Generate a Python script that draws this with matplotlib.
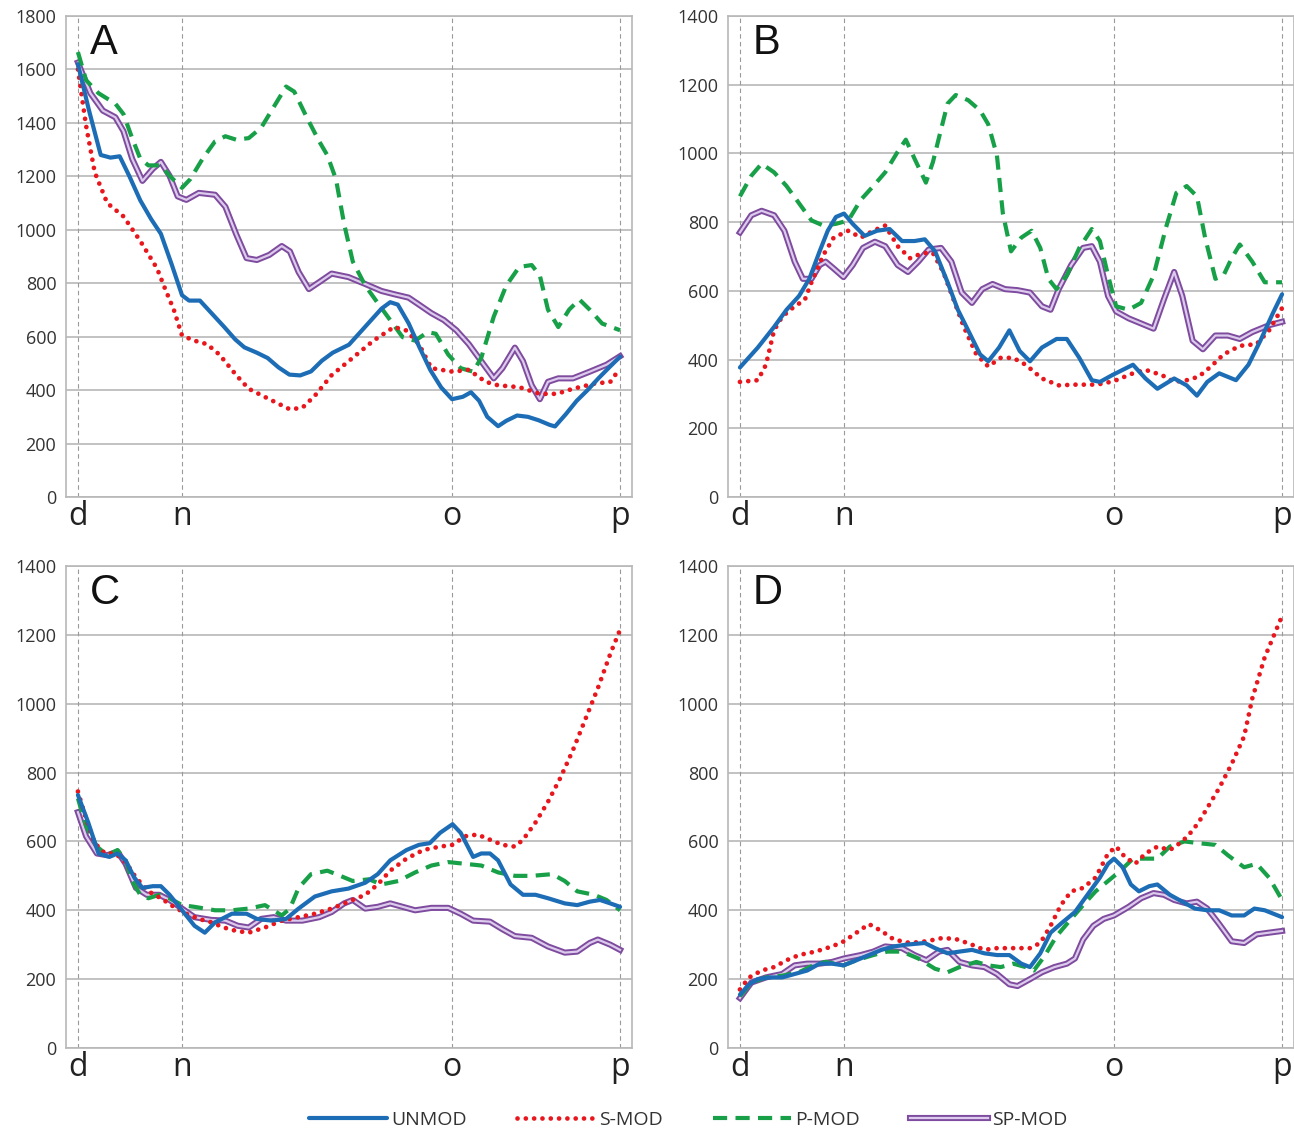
import matplotlib
matplotlib.use("Agg")
import matplotlib.pyplot as plt
import matplotlib.patheffects as pe

plt.rcParams['font.family'] = ['Open Sans', 'DejaVu Sans']

# x positions along the profile: d=0, p=100
marks = [0, 19.2, 69.0, 100]
mark_labels = ['d', 'n', 'o', 'p']
series_names = ['UNMOD', 'S-MOD', 'P-MOD', 'SP-MOD']

# ---- panel A ----
a_unmod_x = [0, 2, 4.2, 6, 7.7, 9.5, 11.5, 13.5, 15.3, 17.3, 19.2, 20.5, 22.5, 25, 27, 29, 30.7, 33, 35, 37, 39, 41, 43, 45, 47, 50, 52, 54, 56, 57.6, 59, 61, 63, 65, 67, 69, 71, 72.5, 74, 75.5, 77.5, 79, 81, 83, 85, 87, 88, 90, 92, 94, 96, 98, 100]
a_unmod_y = [1620, 1450, 1280, 1270, 1275, 1200, 1110, 1040, 985, 870, 755, 735, 735, 680, 636, 590, 560, 540, 520, 485, 458, 455, 470, 510, 540, 570, 615, 660, 705, 729, 720, 650, 560, 475, 410, 366, 375, 392, 360, 300, 265, 285, 305, 300, 287, 270, 264, 310, 360, 400, 444, 485, 525]
a_smod_x = [0, 1.5, 3.1, 5.4, 8.4, 11.5, 14.6, 16.1, 17.7, 19.2, 21.5, 23.8, 26.1, 29.2, 31.5, 35.3, 39.1, 41.4, 43.7, 46.8, 50.7, 54.5, 58.3, 60.6, 62.9, 65.2, 69.1, 72.1, 75.2, 77.5, 81.4, 85.2, 88.3, 91.3, 95.2, 98.2, 100]
a_smod_y = [1600, 1390, 1215, 1100, 1050, 958, 855, 778, 700, 604, 585, 572, 533, 456, 405, 366, 328, 334, 379, 456, 521, 585, 636, 623, 572, 482, 469, 476, 431, 418, 411, 386, 386, 405, 424, 431, 482]
a_pmod_x = [0, 1.5, 3.8, 6.9, 8.4, 10.0, 11.5, 13.0, 15.3, 16.9, 19.2, 20.7, 23.0, 25.3, 27.2, 29.2, 31.5, 33.8, 36.1, 38.4, 39.9, 42.2, 44.5, 46.0, 47.6, 49.1, 50.7, 53.0, 55.3, 57.6, 59.9, 62.2, 64.5, 66.0, 68.3, 70.6, 72.9, 74.4, 76.7, 79.0, 81.4, 83.7, 85.2, 86.7, 88.6, 90.6, 92.5, 94.4, 96.7, 100]
a_pmod_y = [1665, 1560, 1511, 1472, 1433, 1343, 1266, 1241, 1241, 1202, 1157, 1189, 1266, 1331, 1350, 1337, 1343, 1382, 1459, 1536, 1517, 1421, 1331, 1279, 1189, 1022, 881, 791, 726, 662, 598, 585, 617, 611, 533, 482, 469, 521, 675, 791, 861, 868, 829, 701, 636, 701, 739, 701, 649, 624]
a_spmod_x = [0, 2.3, 4.6, 6.9, 8.4, 10.0, 11.9, 13.8, 15.3, 16.9, 18.4, 20.0, 22.3, 25.3, 27.2, 29.2, 31.1, 33.0, 35.3, 37.6, 39.1, 40.7, 42.6, 44.5, 46.8, 49.9, 53.0, 56.0, 58.3, 61.0, 62.9, 65.2, 67.5, 69.8, 72.1, 74.4, 76.7, 78.3, 80.6, 82.1, 83.7, 85.2, 86.7, 88.6, 91.3, 94.4, 97.5, 100]
a_spmod_y = [1626, 1511, 1446, 1421, 1369, 1266, 1183, 1228, 1254, 1202, 1125, 1112, 1138, 1131, 1086, 983, 894, 887, 906, 939, 919, 842, 778, 804, 836, 823, 797, 771, 759, 746, 720, 688, 662, 624, 572, 508, 444, 482, 559, 508, 418, 366, 431, 444, 444, 469, 495, 527]

# ---- panel B ----
b_unmod_x = [0, 3.3, 6.3, 8.6, 10.9, 12.8, 14.7, 16.2, 17.7, 19.2, 20.8, 23.0, 25.3, 27.6, 29.9, 32.2, 34.1, 36.0, 38.3, 40.2, 42.1, 44.3, 45.8, 47.8, 49.7, 51.6, 53.5, 55.7, 58.4, 60.3, 62.6, 64.9, 66.4, 68.7, 72.5, 74.8, 77.0, 80.1, 82.4, 84.3, 86.2, 88.4, 91.5, 93.8, 96.0, 98.3, 100]
b_unmod_y = [377, 435, 495, 545, 585, 635, 715, 775, 815, 825, 795, 760, 775, 780, 745, 745, 750, 715, 625, 545, 485, 415, 395, 435, 485, 425, 395, 435, 460, 460, 405, 340, 335, 355, 385, 345, 315, 345, 325, 295, 335, 360, 340, 385, 455, 535, 590]
b_smod_x = [0, 3.3, 4.8, 6.3, 7.8, 9.7, 12.0, 13.2, 15.4, 17.3, 20.0, 22.3, 24.6, 26.8, 29.1, 31.4, 33.7, 35.6, 37.5, 39.4, 41.3, 43.6, 45.8, 48.1, 50.4, 52.7, 55.7, 58.8, 61.8, 64.9, 67.1, 69.4, 72.5, 74.8, 77.8, 80.1, 82.4, 84.6, 86.9, 89.2, 92.2, 95.3, 97.6, 100]
b_smod_y = [335, 340, 385, 485, 525, 550, 575, 625, 705, 755, 775, 755, 775, 790, 730, 695, 710, 710, 655, 575, 495, 415, 380, 405, 405, 385, 345, 325, 327, 327, 330, 340, 360, 370, 355, 335, 340, 350, 380, 415, 440, 445, 485, 550]
b_pmod_x = [0, 2.1, 4.0, 6.3, 8.6, 10.9, 13.2, 15.4, 17.7, 20.0, 22.3, 24.6, 26.8, 29.1, 30.6, 32.2, 34.3, 35.6, 36.7, 38.3, 39.8, 42.1, 44.3, 45.8, 47.4, 48.5, 50.0, 51.9, 53.8, 55.4, 56.9, 58.4, 60.3, 62.6, 64.9, 66.4, 67.9, 69.4, 71.7, 74.0, 76.3, 78.6, 80.5, 82.4, 84.3, 85.8, 87.7, 89.2, 90.7, 92.2, 94.5, 96.8, 100]
b_pmod_y = [875, 935, 970, 945, 905, 855, 805, 790, 795, 805, 865, 905, 945, 1005, 1040, 985, 915, 975, 1045, 1145, 1170, 1155, 1125, 1085, 995, 825, 715, 755, 775, 725, 635, 605, 645, 725, 780, 745, 645, 555, 545, 565, 645, 785, 885, 905, 875, 755, 635, 645, 695, 735, 685, 625, 625]
b_spmod_x = [0, 2.1, 4.0, 6.3, 8.2, 10.1, 11.6, 13.2, 14.7, 15.8, 17.3, 19.1, 20.8, 22.7, 24.9, 26.8, 29.1, 31.0, 32.9, 34.8, 37.1, 39.0, 40.9, 42.8, 44.7, 46.6, 48.9, 51.2, 53.5, 55.7, 57.3, 58.8, 61.1, 63.3, 64.9, 66.4, 67.9, 69.4, 71.7, 74.0, 76.3, 78.2, 80.1, 81.6, 83.5, 85.4, 87.7, 90.0, 92.2, 94.5, 97.6, 100]
b_spmod_y = [770, 820, 833, 820, 775, 685, 635, 635, 675, 685, 665, 640, 675, 725, 743, 730, 675, 655, 685, 720, 725, 685, 595, 565, 605, 620, 605, 602, 595, 555, 545, 605, 675, 725, 730, 685, 585, 540, 520, 505, 490, 575, 655, 585, 455, 430, 470, 470, 460, 480, 500, 510]

# ---- panel C ----
c_unmod_x = [0, 1.9, 3.8, 5.8, 7.3, 8.8, 10.4, 11.9, 13.8, 15.3, 16.9, 19.2, 21.5, 23.4, 25.3, 28.4, 31.1, 33.0, 35.7, 38.4, 40.7, 43.7, 46.8, 49.9, 53.0, 55.3, 57.6, 60.6, 62.9, 64.9, 66.8, 69.1, 70.6, 72.9, 74.4, 76.0, 77.5, 79.8, 82.1, 84.4, 86.7, 89.8, 92.1, 94.4, 96.3, 98.2, 100]
c_unmod_y = [735, 655, 565, 555, 565, 545, 495, 465, 470, 470, 445, 400, 355, 335, 365, 390, 390, 375, 370, 375, 405, 440, 455, 463, 480, 505, 545, 575, 590, 595, 625, 650, 625, 555, 565, 565, 545, 475, 445, 445, 435, 420, 415, 425, 430, 420, 410]
c_smod_x = [0, 1.5, 3.1, 5.0, 6.9, 8.8, 10.7, 13.0, 15.3, 17.7, 20.0, 22.3, 24.6, 26.9, 29.2, 31.5, 34.5, 37.6, 40.7, 43.7, 46.8, 49.9, 53.0, 55.3, 57.6, 60.6, 63.7, 66.8, 69.1, 71.4, 73.7, 76.0, 78.3, 80.6, 82.1, 84.4, 86.7, 89.0, 91.3, 93.6, 95.9, 98.2, 100]
c_smod_y = [745, 665, 595, 565, 565, 540, 495, 455, 435, 410, 390, 375, 365, 350, 340, 335, 350, 370, 380, 390, 405, 425, 445, 475, 515, 550, 575, 585, 590, 615, 620, 605, 590, 585, 605, 655, 715, 785, 865, 955, 1045, 1145, 1215]
c_pmod_x = [0, 1.5, 3.5, 5.4, 7.3, 8.8, 10.0, 11.5, 13.0, 15.0, 16.9, 19.2, 21.5, 25.3, 28.4, 31.5, 34.5, 37.6, 39.1, 40.7, 43.0, 46.0, 48.4, 50.7, 53.7, 56.0, 59.1, 62.2, 65.2, 68.3, 71.4, 74.4, 77.5, 80.6, 83.7, 87.5, 89.8, 92.1, 95.2, 97.5, 100]
c_pmod_y = [725, 645, 585, 560, 575, 545, 485, 445, 435, 445, 435, 415, 410, 400, 400, 405, 415, 385, 405, 465, 505, 515, 500, 485, 490, 475, 485, 510, 530, 540, 535, 530, 510, 500, 500, 505, 485, 455, 445, 430, 400]
c_spmod_x = [0, 1.5, 3.5, 5.4, 7.3, 8.8, 10.7, 12.7, 15.0, 16.9, 19.2, 21.5, 24.6, 27.2, 29.5, 31.5, 33.8, 36.1, 38.4, 41.4, 44.5, 46.8, 49.1, 50.7, 53.0, 55.3, 57.6, 59.9, 62.2, 65.2, 68.3, 70.6, 72.9, 76.0, 78.3, 80.6, 83.7, 86.7, 89.8, 92.1, 94.4, 95.9, 98.2, 100]
c_spmod_y = [685, 615, 565, 560, 570, 535, 465, 445, 445, 430, 405, 380, 372, 370, 355, 350, 375, 380, 370, 370, 380, 395, 420, 430, 405, 410, 420, 410, 400, 407, 407, 390, 370, 367, 345, 325, 320, 295, 277, 280, 305, 315, 300, 285]

# ---- panel D ----
d_unmod_x = [0, 1.7, 3.3, 5.6, 7.8, 10.1, 12.4, 14.7, 17.0, 19.1, 21.5, 23.8, 26.1, 28.4, 30.6, 34.1, 36.0, 38.3, 40.5, 42.8, 45.1, 47.4, 49.7, 51.9, 53.5, 55.4, 57.3, 59.5, 61.8, 64.1, 66.4, 67.9, 69.0, 70.6, 72.1, 73.6, 75.5, 77.0, 79.3, 81.6, 83.9, 86.2, 88.4, 90.7, 93.0, 94.9, 96.8, 100]
d_unmod_y = [155, 185, 200, 205, 205, 215, 225, 245, 245, 240, 255, 270, 285, 295, 300, 305, 290, 275, 280, 285, 275, 270, 270, 245, 235, 275, 335, 365, 395, 445, 495, 535, 550, 525, 475, 455, 470, 475, 445, 425, 405, 400, 400, 385, 385, 405, 400, 380]
d_smod_x = [0, 1.7, 4.0, 6.3, 8.6, 10.9, 13.9, 17.0, 19.2, 21.5, 23.8, 26.1, 28.4, 31.4, 34.4, 37.5, 40.2, 42.8, 45.1, 47.4, 50.4, 53.5, 55.4, 57.3, 59.2, 61.1, 63.3, 65.6, 67.9, 69.4, 71.0, 72.9, 74.8, 77.0, 79.3, 81.6, 83.1, 84.6, 86.5, 88.4, 90.7, 93.0, 94.5, 96.8, 100]
d_smod_y = [170, 205, 225, 235, 255, 270, 280, 295, 310, 335, 360, 340, 315, 305, 310, 320, 315, 300, 285, 290, 290, 290, 305, 355, 415, 455, 465, 495, 565, 585, 555, 535, 565, 585, 575, 600, 625, 655, 705, 755, 825, 905, 1015, 1135, 1255]
d_pmod_x = [0, 2.1, 4.8, 7.8, 10.9, 13.5, 15.8, 19.1, 21.5, 24.6, 27.2, 29.9, 32.9, 36.0, 38.3, 40.5, 43.6, 45.8, 48.1, 50.4, 52.7, 54.2, 56.1, 58.4, 61.1, 63.3, 65.6, 67.9, 70.2, 72.5, 74.8, 77.0, 79.3, 82.0, 84.6, 87.7, 90.0, 93.0, 95.3, 97.6, 100]
d_pmod_y = [150, 190, 205, 210, 220, 240, 250, 240, 255, 270, 280, 280, 260, 230, 220, 235, 250, 240, 235, 245, 235, 225, 265, 325, 375, 415, 455, 485, 515, 550, 550, 550, 585, 600, 595, 590, 560, 525, 535, 495, 430]
d_spmod_x = [0, 2.1, 4.8, 7.8, 10.1, 12.4, 14.7, 17.0, 19.2, 22.3, 24.6, 26.8, 29.9, 32.2, 34.4, 36.7, 38.3, 40.5, 42.8, 45.1, 47.4, 49.7, 51.2, 53.5, 55.7, 58.0, 60.3, 61.8, 63.3, 65.2, 67.1, 69.0, 71.7, 74.0, 76.3, 78.2, 80.1, 82.4, 84.3, 86.2, 88.4, 90.7, 93.0, 95.3, 97.6, 100]
d_spmod_y = [145, 190, 205, 215, 240, 245, 245, 250, 260, 270, 280, 295, 290, 270, 255, 280, 285, 250, 240, 235, 215, 185, 180, 200, 220, 235, 245, 260, 315, 355, 375, 385, 410, 435, 450, 445, 430, 420, 425, 405, 360, 310, 305, 330, 335, 340]

panels = [
    ('A', 1800, [(a_unmod_x, a_unmod_y), (a_smod_x, a_smod_y), (a_pmod_x, a_pmod_y), (a_spmod_x, a_spmod_y)]),
    ('B', 1400, [(b_unmod_x, b_unmod_y), (b_smod_x, b_smod_y), (b_pmod_x, b_pmod_y), (b_spmod_x, b_spmod_y)]),
    ('C', 1400, [(c_unmod_x, c_unmod_y), (c_smod_x, c_smod_y), (c_pmod_x, c_pmod_y), (c_spmod_x, c_spmod_y)]),
    ('D', 1400, [(d_unmod_x, d_unmod_y), (d_smod_x, d_smod_y), (d_pmod_x, d_pmod_y), (d_spmod_x, d_spmod_y)]),
]

W, H = 1294, 1131
fig = plt.figure(figsize=(W / 100, H / 100), dpi=100, facecolor='w')

# axes boxes in pixels: left, top, right, bottom
boxes = [(66, 16, 632, 497), (728, 16, 1294, 497), (66, 566, 632, 1048), (728, 566, 1294, 1048)]

blue = '#1c6db5'
red = '#e8161d'
green = '#18a048'
purple = '#7e4b9e'
lavender = '#dccbec'
grey = '#b8b8b8'
txt = '#333333'

handles = []
for (letter, ymax, series), (l, t, r, b) in zip(panels, boxes):
    ax = fig.add_axes([l / W, 1 - b / H, (r - l) / W, (b - t) / H])
    ax.set_xlim(-2.2, 102.2)
    ax.set_ylim(0, ymax)
    ax.set_yticks(range(0, ymax + 1, 200))
    ax.set_xticks(marks)
    ax.set_xticklabels(mark_labels, fontsize=23, color='#222222')
    ax.tick_params(axis='y', length=0, pad=7, labelsize=13, labelcolor=txt)
    ax.tick_params(axis='x', length=0, pad=2)
    ax.grid(axis='y', color=grey, lw=1.2)
    for m in marks:
        ax.axvline(m, color='#9a9a9a', lw=0.8, ls=(0, (4, 3)), zorder=1)
    for side in ['left', 'bottom', 'right', 'top']:
        ax.spines[side].set_color(grey)
        ax.spines[side].set_linewidth(1.2)
    ax.set_axisbelow(True)

    (ux, uy), (sx, sy), (px, py), (spx, spy) = series
    h_sp, = ax.plot(spx, spy, color=lavender, lw=1.6, solid_joinstyle='round', zorder=3,
                    path_effects=[pe.Stroke(linewidth=4.4, foreground=purple, joinstyle='round'), pe.Normal()])
    h_p, = ax.plot(px, py, color=green, lw=3, ls=(0, (3.4, 2.0)), zorder=4)
    h_s, = ax.plot(sx, sy, color=red, lw=3.4, ls=(0, (0.01, 1.75)), dash_capstyle='round', zorder=5)
    h_u, = ax.plot(ux, uy, color=blue, lw=3, solid_joinstyle='round', solid_capstyle='round', zorder=6)
    handles = [h_u, h_s, h_p, h_sp]

    ax.text(0.043, 0.985, letter, transform=ax.transAxes, fontsize=30, va='top', ha='left',
            color='#111111', family=['Liberation Sans', 'DejaVu Sans'])

fig.legend(handles, series_names, loc='center', bbox_to_anchor=(0.532, 1 - 1120 / H),
           ncol=4, frameon=False, fontsize=14, handlelength=4.0, handletextpad=0.2,
           columnspacing=2.6, labelcolor=txt)

fig.savefig('out.png', dpi=100, facecolor='w')
